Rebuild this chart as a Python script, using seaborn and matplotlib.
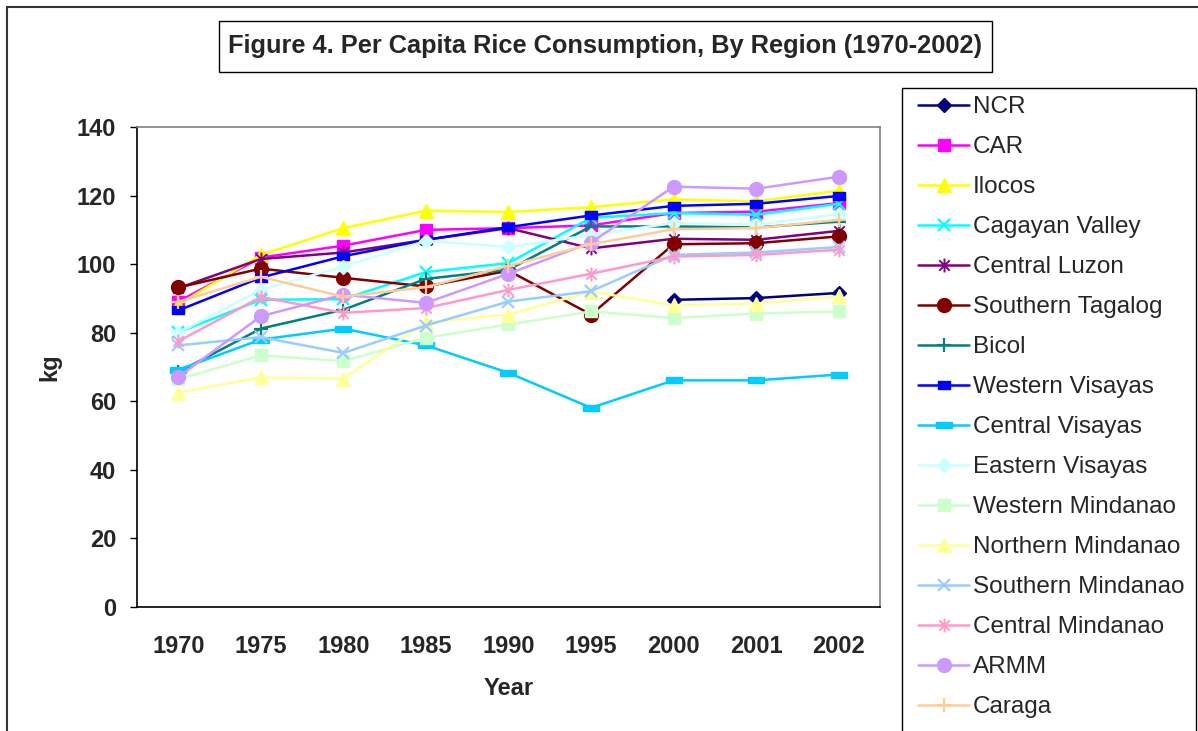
import numpy as np
import matplotlib
matplotlib.use("Agg")
import matplotlib.pyplot as plt
import matplotlib.patches as patches
from matplotlib.path import Path
import seaborn as sns

# Per capita rice consumption (kg) by region
years = ["1970", "1975", "1980", "1985", "1990", "1995", "2000", "2001", "2002"]
regions = ["NCR", "CAR", "Ilocos", "Cagayan Valley", "Central Luzon", "Southern Tagalog",
           "Bicol", "Western Visayas", "Central Visayas", "Eastern Visayas",
           "Western Mindanao", "Northern Mindanao", "Southern Mindanao",
           "Central Mindanao", "ARMM", "Caraga"]

ncr = [None, None, None, None, None, None, 89.6, 90.1, 91.6]
car = [89.1, 101.9, 105.4, 110.0, 110.5, 111.3, 114.9, 115.3, 117.8]
ilocos = [88.2, 102.7, 110.5, 115.6, 115.2, 116.6, 118.9, 118.3, 121.4]
cagayan_valley = [80.1, 89.6, 89.8, 97.7, 100.3, 113.5, 114.9, 114.4, 117.6]
central_luzon = [93.0, 101.5, 103.4, 107.1, 110.5, 104.6, 107.4, 107.1, 109.7]
southern_tagalog = [93.2, 98.7, 96.0, 93.5, 98.1, 85.3, 105.8, 106.1, 108.1]
bicol = [68.5, 81.2, 86.7, 95.7, 98.4, 111.0, 111.0, 110.7, 112.4]
western_visayas = [86.5, 96.1, 102.3, 107.1, 110.8, 114.2, 117.0, 117.6, 119.9]
central_visayas = [69.2, 78.0, 81.2, 76.3, 68.3, 58.1, 66.1, 66.1, 67.8]
eastern_visayas = [80.0, 92.5, 99.3, 106.8, 105.0, 108.5, 112.0, 111.5, 114.6]
western_mindanao = [66.4, 73.4, 71.7, 78.5, 82.4, 86.2, 84.3, 85.6, 86.2]
northern_mindanao = [62.5, 67.0, 66.6, 83.0, 85.3, 92.0, 88.0, 88.5, 90.6]
southern_mindanao = [76.3, 78.7, 74.1, 82.1, 89.1, 92.1, 102.7, 103.4, 105.0]
central_mindanao = [77.5, 90.4, 85.8, 87.2, 92.5, 97.2, 102.2, 102.7, 104.2]
armm = [67.1, 84.8, 91.1, 88.7, 97.2, 106.3, 122.6, 122.0, 125.5]
caraga = [89.0, 96.3, 90.5, 93.3, 99.5, 105.8, 110.2, 110.5, 112.9]

series = [ncr, car, ilocos, cagayan_valley, central_luzon, southern_tagalog, bicol,
          western_visayas, central_visayas, eastern_visayas, western_mindanao,
          northern_mindanao, southern_mindanao, central_mindanao, armm, caraga]

colors = ["#000080", "#FF00FF", "#FFFF00", "#00FFFF", "#800080", "#800000",
          "#008080", "#0000FF", "#00CCFF", "#CCFFFF", "#CCFFCC", "#FFFF99",
          "#99CCFF", "#FF99CC", "#CC99FF", "#FFCC99"]

# Excel-like marker shapes
M, L = Path.MOVETO, Path.LINETO
asterisk = Path([(0, -1), (0, 1), (-0.75, -0.75), (0.75, 0.75), (-0.75, 0.75), (0.75, -0.75)],
                [M, L, M, L, M, L])
short_rect = Path([(-1, -0.6), (1, -0.6), (1, 0.6), (-1, 0.6), (-1, -0.6)],
                  [M, L, L, L, Path.CLOSEPOLY])
long_rect = Path([(-1, -0.4), (1, -0.4), (1, 0.4), (-1, 0.4), (-1, -0.4)],
                 [M, L, L, L, Path.CLOSEPOLY])

# (marker, size, filled, edge width)
styles = [("D", 7, True, 1.0), ("s", 8.5, True, 1.0), ("^", 10, True, 1.0),
          ("x", 8.5, False, 1.6), (asterisk, 10, False, 1.4), ("o", 10, True, 1.0),
          ("+", 10, False, 1.6), (short_rect, 9, True, 1.0), (long_rect, 12, True, 1.0),
          ("D", 7, True, 1.0), ("s", 9, True, 1.0), ("^", 10, True, 1.0),
          ("x", 8.5, False, 1.6), (asterisk, 10, False, 1.4), ("o", 10, True, 1.0),
          ("+", 10, False, 1.6)]

sns.set_style("white")
plt.rcParams["font.family"] = ["Liberation Sans", "DejaVu Sans"]

W, H = 1198, 731
fig = plt.figure(figsize=(W / 100, H / 100), dpi=100)
ax = fig.add_axes([137 / W, 1 - 607 / H, (880 - 137) / W, (607 - 127) / H])

pos = np.arange(len(years))
for name, vals, col, (mk, ms, filled, mew) in zip(regions, series, colors, styles):
    idx = [i for i, v in enumerate(vals) if v is not None]
    sns.lineplot(x=pos[idx], y=[vals[i] for i in idx], ax=ax, color=col, linewidth=1.8,
                 marker=mk, markersize=ms, markeredgewidth=mew,
                 markerfacecolor=col if filled else "none", markeredgecolor=col,
                 label=name, sort=False, errorbar=None)

ax.set_xlim(-0.5, len(years) - 0.5)
ax.set_ylim(0, 140)
ax.set_yticks(np.arange(0, 141, 20))
ax.set_xticks(pos)
ax.set_xticklabels(years)
ax.set_xticks(np.arange(-0.5, len(years), 1), minor=True)
ax.tick_params(axis="x", which="major", length=0, pad=20, labelsize=17)
ax.tick_params(axis="x", which="minor", length=5, width=1, direction="out", color="black")
ax.tick_params(axis="y", length=5, width=1, direction="out", pad=10, labelsize=17, color="black", left=True)
for lbl in ax.get_xticklabels() + ax.get_yticklabels():
    lbl.set_fontweight("bold")

ax.set_xlabel("Year", fontsize=17, fontweight="bold", labelpad=14)
ax.set_ylabel("kg", fontsize=17, fontweight="bold", labelpad=11)

for side in ["left", "bottom"]:
    ax.spines[side].set_color("black")
    ax.spines[side].set_linewidth(1.2)
for side in ["top", "right"]:
    ax.spines[side].set_visible(True)
    ax.spines[side].set_color("#808080")
    ax.spines[side].set_linewidth(1.2)

# legend entries without frame, frame drawn separately like the Excel box
leg = ax.legend(loc="upper left", bbox_to_anchor=(910 / W, 1 - 88 / H),
                bbox_transform=fig.transFigure, fontsize=17.5, frameon=False,
                handlelength=2.1, labelspacing=0.74, borderpad=0.33,
                handletextpad=0.15, borderaxespad=0)
fig.patches.append(patches.Rectangle((902 / W, -0.1), (1196 - 902) / W, 1.1 - 88 / H,
                                     transform=fig.transFigure, fill=False,
                                     edgecolor="black", linewidth=1.0))

# title box
fig.patches.append(patches.Rectangle((219 / W, 1 - 72 / H), (992 - 219) / W, 51 / H,
                                     transform=fig.transFigure, fill=False,
                                     edgecolor="black", linewidth=1.0))
fig.text((219 + 992) / 2 / W, 1 - 46.5 / H,
         "Figure 4. Per Capita Rice Consumption, By Region (1970-2002)",
         ha="center", va="center", fontsize=18.3, fontweight="bold")

# outer chart border
fig.patches.append(patches.Rectangle((7 / W, -0.1), 1.2, 1.1 - 7 / H,
                                     transform=fig.transFigure, fill=False,
                                     edgecolor="#333333", linewidth=1.5))

plt.savefig("out.png", dpi=100)
